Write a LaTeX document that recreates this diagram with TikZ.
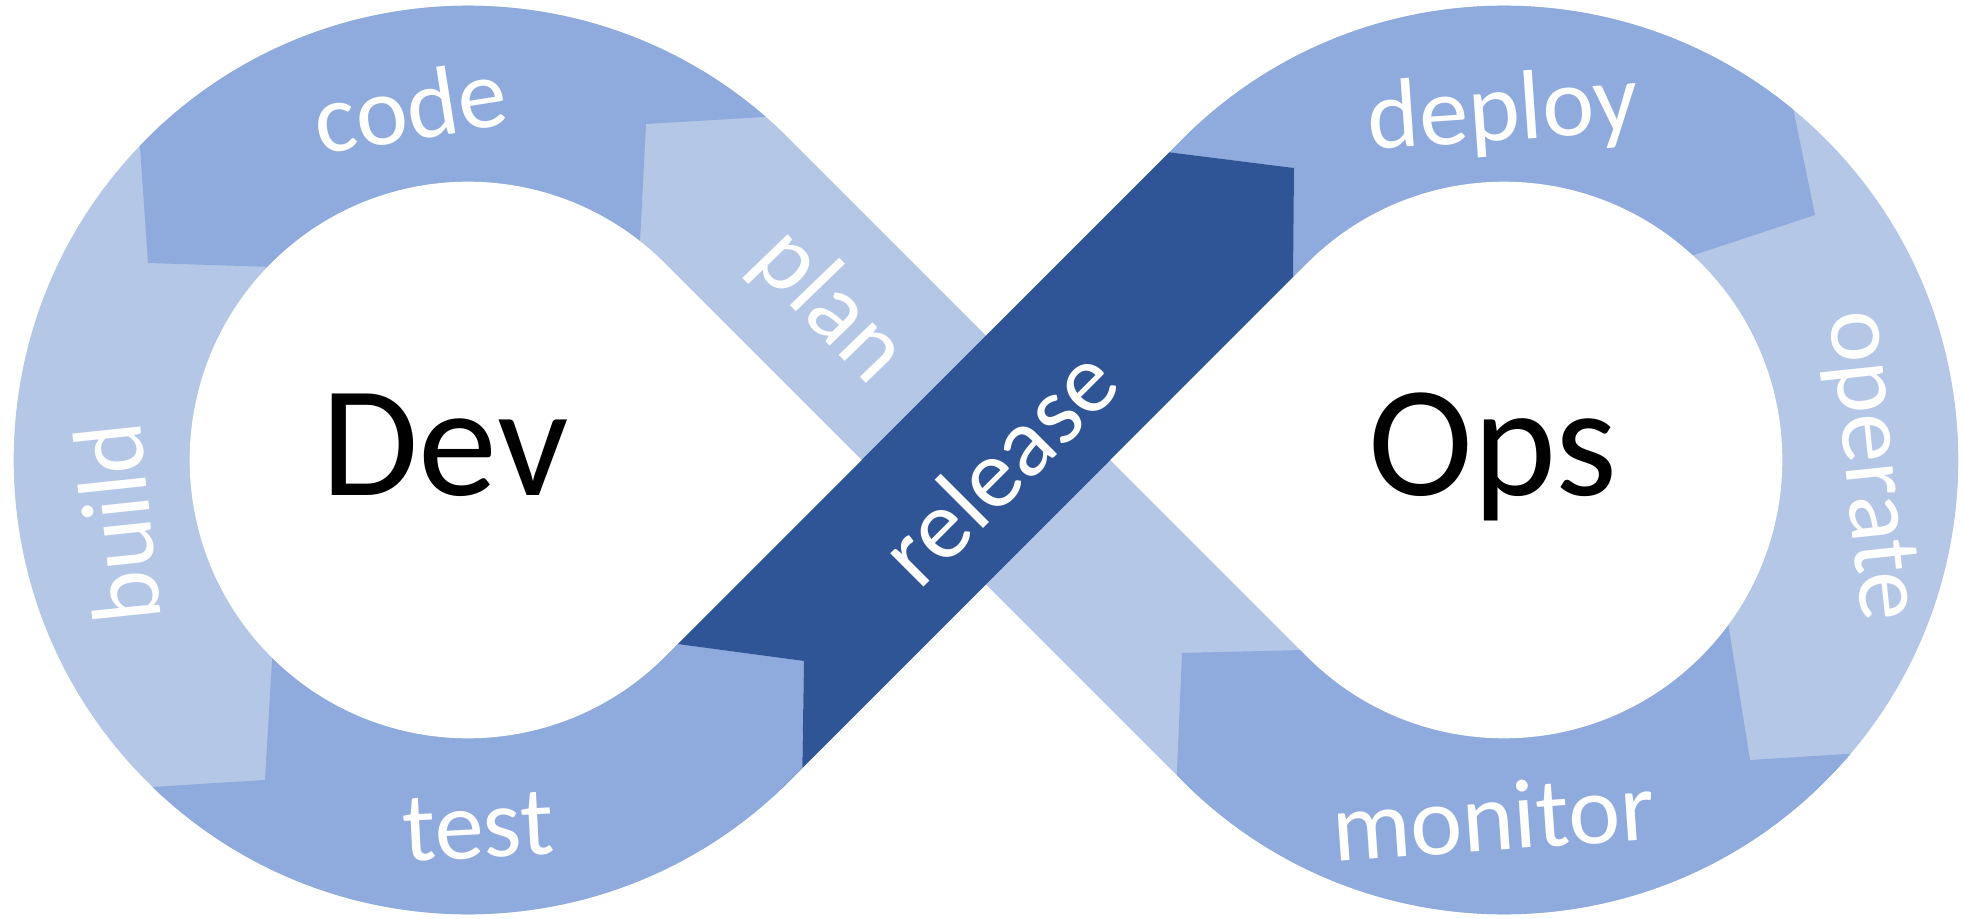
\documentclass[tikz,border=0pt]{standalone}
\usepackage{fontspec}
\setmainfont{Carlito}
\usepackage{xcolor}
\usepackage{tikz}
\definecolor{lightblue}{HTML}{B4C7E7}
\definecolor{midblue}{HTML}{8FAADC}
\definecolor{darkblue}{HTML}{2F5597}

\begin{document}
\begin{tikzpicture}[x=0.01cm,y=0.01cm,
    lbl/.style={text=white,font=\fontsize{28}{30}\selectfont,inner sep=0pt},
    big/.style={text=black,font=\fontsize{45}{50}\selectfont,inner sep=0pt,anchor=base}]
        \useasboundingbox (-982,-459) rectangle (982,459);
        \begin{scope}
            \clip (-192.76,320.24) arc[start angle=45,end angle=315,radius=454.3]
                --(4,-125.45)--(200.76,-322.24) arc[start angle=-135,end angle=135,radius=454.3]
                --(4,123.45)--cycle;%8字形外轮廓
            \fill[lightblue] (-982,-459) rectangle (982,459);%浅色底: build, plan, operate
            \fill[midblue] (-834,196)--(-848,400)--(-848,480)--(-180,480)--(-180,344.2)
                --(-336,335)--(-342,217)--(-345.4,150)--(-600,188.5)--cycle;%code
            \fill[midblue] (-717,-321)--(-900,-332.3)--(-900,-480)--(-183,-480)--(-180,-316)
                --(-178,-202)--(-400,-172.1)--(-706.9,-150)--cycle;%test
            \fill[midblue] (312,291)--(309.7,150)--(650,183.5)--(833,244)--(784.5,480)
                --(150,480)--(150,311.4)--cycle;%deploy
            \fill[midblue] (200,-194)--(400,-189)--(739,-120)--(768,-301)--(1000,-286.5)
                --(1000,-500)--(180,-500)--(193.8,-340)--cycle;%monitor
            \fill[darkblue] (-304.5,-185)--(-178,-202)--(-180,-330)--(-200.55,-330)
                --(311,181.55)--(312,291)--(187.3,306.7)--cycle;%release压在上面
        \end{scope}
        \fill[white] (-317.21,195.79) arc[start angle=45,end angle=315,radius=278.3]--(-120.45,-1)--cycle;%左边的洞
        \fill[white] (325.21,-197.79) arc[start angle=-135,end angle=135,radius=278.3]--(128.45,-1)--cycle;%右边的洞
        \foreach \t/\x/\y/\a in {code/-572/353/9,plan/-153/152/-46,release/16/-7/45,deploy/521/345/4,
            operate/887/-7/-84,monitor/511/-358/4,test/-504/-368/3,build/-865/-64/96}%各阶段文字
        {
            \node[lbl,rotate=\a] (\t) at (\x,\y) {\t};
        }
        \node[big] (dev) at (-537,-36) {Dev};
        \node[big] (ops) at (511,-36) {Ops};
\end{tikzpicture}
\end{document}
